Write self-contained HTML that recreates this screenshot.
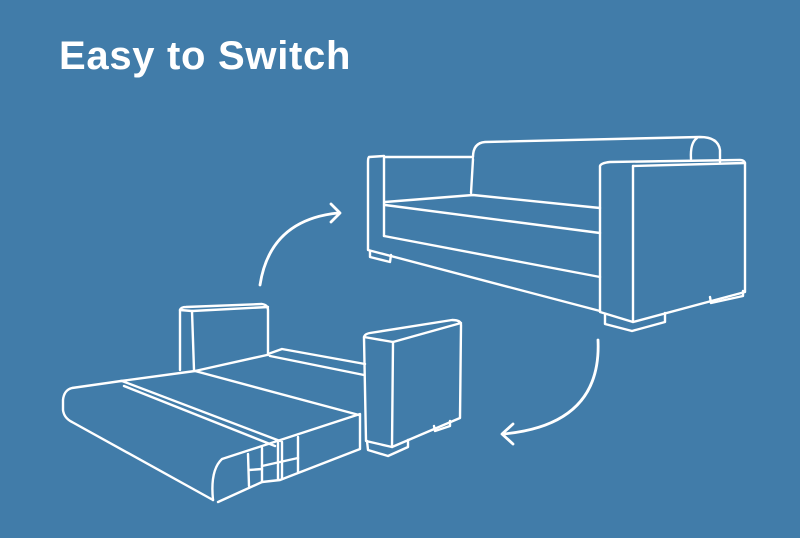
<!DOCTYPE html>
<html><head><meta charset="utf-8"><style>
html,body{margin:0;padding:0;background:#417ca9;}
.t{position:absolute;left:59px;top:34px;font-family:"Liberation Sans",sans-serif;font-weight:bold;font-size:40px;color:#fff;letter-spacing:0.7px;}
svg{position:absolute;left:0;top:0}
</style></head><body>
<div class="t">Easy to Switch</div>
<svg width="800" height="538" viewBox="0 0 800 538" fill="none" stroke="#fff" stroke-width="2.4" stroke-linejoin="round" stroke-linecap="round">
<!-- arrows -->
<path d="M260,285 Q270,220 338,213" stroke-width="2.8"/>
<path d="M331,204 L340,213 L331,222" stroke-width="2.8"/>
<path d="M598,340 Q602,425 503,434" stroke-width="2.8"/>
<path d="M513,424 L502,434 L513,444" stroke-width="2.8"/>
<!-- sofa -->
<path d="M384,156 L369,157 Q368,158 368,162 L368,250 L600,311"/>
<path d="M384,158 L384,236"/>
<path d="M384,157 L473,157 Q473,143 485,142 L700,137 Q718,137 720,150 L720,162"/>
<path d="M473,159 L471,193"/>
<path d="M697,138 Q690,143 691,159"/>
<path d="M385,202 L473,195 L600,208"/>
<path d="M385,205 L600,233"/>
<path d="M384,236 L600,277"/>
<path d="M370,251 L370,257 L390,262 L391,255"/>
<path d="M600,166 L600,312 L633,322 L745,292 L745,163 Q744,160 740,160 L610,162 Q601,163 600,166"/>
<path d="M633,166 L745,163"/>
<path d="M633,166 L633,322"/>
<path d="M605,315 L605,324 L632,331 L665,322 L665,313"/>
<path d="M710,297 L711,303 L743,296 L743,291"/>
<!-- bed: left back -->
<path d="M180,370 L180,310 Q181,307 186,307 L262,304 Q268,305 268,310 L268,355"/>
<path d="M180,310 L192,311 L268,307"/>
<path d="M192,311 L194,370"/>
<path d="M268,354 L282,349 L365,364"/>
<path d="M270,356 L364,375"/>
<!-- mattress -->
<path d="M121,381 L195,371 L267,355"/>
<path d="M121,381 L72,388 Q64,390 63,400 L63,410 Q64,418 72,422 L213,500"/>
<path d="M122,381 L280,441"/>
<path d="M124,386 L275,446"/>
<path d="M195,371 L359,415"/>
<path d="M213,500 Q210,470 222,459 L262,446 L360,414 L360,449 L280,480 L262,482 L218,502"/>
<path d="M262,448 L262,482"/>
<path d="M278,443 L278,479"/>
<path d="M282,442 L282,478"/>
<path d="M298,437 L298,472"/>
<path d="M262,466 L298,458"/>
<path d="M248,454 L249,486"/>
<path d="M249,470 L262,469"/>
<!-- right arm -->
<path d="M364,338 Q364,334 370,333 L452,320 Q461,320 461,325 L460,418 L392,447 L366,441 L364,338"/>
<path d="M364,337 L393,342 L461,323"/>
<path d="M393,342 L392,447"/>
<path d="M367,441 L368,450 L388,456 L408,447 L408,440"/>
<path d="M434,426 L435,431 L450,426 L450,421"/>
</svg>
</body></html>
